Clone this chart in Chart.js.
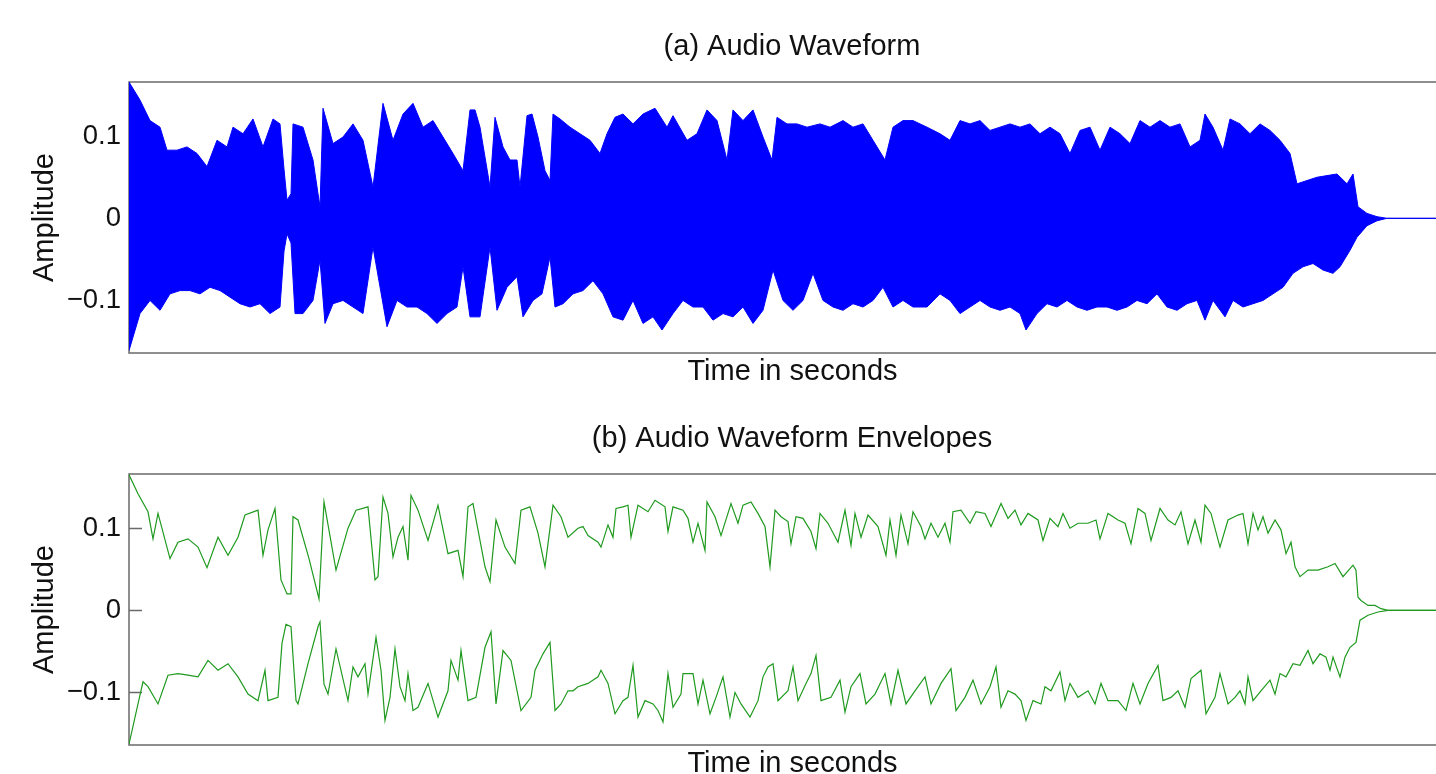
<!DOCTYPE html>
<html>
<head>
<meta charset="utf-8">
<title>Audio Waveform and Envelopes</title>
<script src="https://cdn.jsdelivr.net/npm/chart.js@4.4.1/dist/chart.umd.min.js"></script>
<style>
  html, body { margin: 0; padding: 0; background: #fff; overflow: hidden; width: 1436px; height: 774px; }
  canvas { position: absolute; left: 0; }
  #wave { top: 0; }
  #env  { top: 392px; }
</style>
</head>
<body>
<canvas id="wave" width="1584" height="392"></canvas>
<canvas id="env" width="1584" height="392"></canvas>
<script>
/* ---- data; time in frames along the (unlabelled) time axis ---- */

// (a) waveform: upper edge of the blue trace
const waveHiT = [0,11,21,31,38,48,58,68,78,88,98,104,114,124,134,144,151,155,158,162,164,174,184,189,191,194,204,214,224,234,244,254,264,274,284,294,304,314,324,334,341,346,351,361,366,374,381,388,391,398,403,409,416,421,424,431,441,451,461,471,478,486,494,504,514,526,538,544,558,568,578,588,598,604,614,624,634,643,648,658,668,678,691,701,714,724,734,744,756,764,774,784,798,811,821,831,841,851,861,871,881,891,901,911,921,931,941,951,961,971,981,991,1001,1011,1021,1031,1041,1051,1061,1071,1076,1084,1094,1101,1111,1121,1131,1141,1151,1161,1168,1178,1188,1198,1208,1218,1224,1229,1238,1248,1258,1327];
const waveHiV = [0.166,0.144,0.119,0.111,0.083,0.083,0.087,0.079,0.063,0.095,0.087,0.111,0.103,0.121,0.087,0.121,0.115,0.06,0.022,0.03,0.115,0.111,0.071,0.03,0.014,0.134,0.091,0.099,0.115,0.095,0.038,0.14,0.095,0.127,0.14,0.111,0.119,0.099,0.079,0.058,0.132,0.132,0.111,0.038,0.123,0.087,0.071,0.071,0.038,0.125,0.127,0.099,0.058,0.046,0.127,0.121,0.111,0.103,0.095,0.079,0.103,0.123,0.127,0.115,0.127,0.134,0.111,0.125,0.095,0.103,0.132,0.119,0.071,0.132,0.119,0.132,0.099,0.071,0.123,0.115,0.115,0.111,0.115,0.111,0.119,0.111,0.115,0.095,0.071,0.111,0.119,0.119,0.111,0.103,0.095,0.119,0.115,0.119,0.107,0.111,0.115,0.111,0.115,0.103,0.111,0.103,0.079,0.107,0.111,0.083,0.111,0.103,0.091,0.119,0.111,0.119,0.111,0.115,0.087,0.095,0.127,0.111,0.083,0.121,0.115,0.103,0.115,0.107,0.095,0.079,0.042,0.046,0.05,0.052,0.054,0.042,0.054,0.014,0.006,0.002,0,0];

// (a) waveform: lower edge of the blue trace
const waveLoT = [0,11,21,31,41,51,61,71,81,91,101,111,121,131,141,151,155,158,162,166,174,184,191,196,204,214,224,234,244,258,268,278,288,298,308,318,328,334,341,351,361,368,378,388,394,404,413,421,426,434,444,454,464,474,484,494,504,514,524,533,544,554,564,574,584,594,604,614,624,634,644,654,664,674,684,694,704,714,724,734,744,754,764,774,784,798,811,821,831,841,851,861,871,881,891,897,908,918,928,938,948,958,968,978,988,998,1008,1018,1028,1038,1048,1058,1068,1076,1084,1096,1104,1114,1124,1134,1144,1154,1164,1174,1184,1194,1204,1211,1221,1228,1238,1248,1258,1327];
const waveLoV = [-0.161,-0.116,-0.1,-0.112,-0.092,-0.088,-0.088,-0.092,-0.084,-0.088,-0.096,-0.104,-0.108,-0.104,-0.116,-0.108,-0.04,-0.019,-0.03,-0.116,-0.116,-0.1,-0.051,-0.128,-0.104,-0.1,-0.108,-0.116,-0.035,-0.132,-0.1,-0.108,-0.108,-0.116,-0.128,-0.116,-0.108,-0.059,-0.12,-0.12,-0.035,-0.112,-0.084,-0.071,-0.12,-0.1,-0.092,-0.047,-0.108,-0.104,-0.092,-0.088,-0.076,-0.092,-0.12,-0.124,-0.1,-0.128,-0.12,-0.136,-0.116,-0.1,-0.108,-0.108,-0.124,-0.116,-0.12,-0.108,-0.128,-0.112,-0.063,-0.1,-0.112,-0.1,-0.067,-0.1,-0.108,-0.112,-0.104,-0.108,-0.1,-0.084,-0.108,-0.1,-0.108,-0.108,-0.092,-0.1,-0.116,-0.108,-0.1,-0.108,-0.112,-0.108,-0.116,-0.136,-0.116,-0.104,-0.108,-0.1,-0.108,-0.112,-0.108,-0.108,-0.112,-0.108,-0.1,-0.104,-0.092,-0.108,-0.112,-0.104,-0.1,-0.124,-0.1,-0.12,-0.1,-0.108,-0.104,-0.1,-0.092,-0.084,-0.067,-0.059,-0.055,-0.063,-0.067,-0.059,-0.039,-0.023,-0.009,-0.003,0,0];

// (b) upper envelope (green)
const envHiT = [0,9,19,24,29,41,49,59,69,78,89,99,109,116,129,134,139,146,152,158,162,164,169,180,190,195,207,219,227,239,246,249,254,259,264,269,274,279,282,289,299,309,319,329,334,339,344,349,356,361,367,376,386,392,401,409,416,424,432,439,449,454,459,469,472,479,484,487,494,499,502,509,519,526,536,539,544,554,559,564,569,576,578,586,592,602,609,614,622,629,636,641,646,652,659,662,667,674,682,687,691,699,709,716,722,726,732,739,749,757,761,767,772,779,784,792,796,802,809,816,821,824,832,841,847,856,862,872,879,886,892,899,909,914,921,929,934,941,949,959,967,971,979,989,996,1002,1009,1016,1022,1031,1039,1046,1052,1059,1066,1072,1076,1082,1091,1099,1109,1114,1119,1124,1129,1134,1139,1146,1152,1157,1162,1166,1171,1179,1189,1199,1206,1214,1224,1227,1229,1232,1239,1246,1252,1259,1327];
const envHiV = [0.165,0.142,0.12,0.087,0.118,0.063,0.083,0.087,0.077,0.052,0.089,0.067,0.089,0.116,0.122,0.067,0.098,0.124,0.037,0.02,0.02,0.114,0.11,0.063,0.014,0.132,0.049,0.1,0.122,0.126,0.037,0.041,0.138,0.118,0.065,0.089,0.102,0.061,0.14,0.122,0.085,0.128,0.069,0.073,0.041,0.126,0.13,0.098,0.053,0.035,0.11,0.077,0.057,0.122,0.126,0.094,0.053,0.128,0.114,0.089,0.1,0.102,0.091,0.083,0.077,0.104,0.089,0.124,0.126,0.128,0.089,0.128,0.12,0.134,0.126,0.096,0.126,0.122,0.112,0.083,0.106,0.073,0.132,0.114,0.091,0.13,0.106,0.128,0.132,0.118,0.102,0.053,0.122,0.114,0.108,0.081,0.114,0.112,0.096,0.075,0.118,0.106,0.083,0.122,0.079,0.118,0.089,0.116,0.102,0.067,0.11,0.067,0.116,0.081,0.12,0.102,0.087,0.106,0.089,0.106,0.083,0.12,0.122,0.106,0.12,0.118,0.102,0.13,0.112,0.122,0.104,0.118,0.11,0.085,0.112,0.102,0.118,0.1,0.106,0.106,0.11,0.087,0.118,0.11,0.106,0.081,0.124,0.118,0.085,0.124,0.11,0.104,0.12,0.081,0.11,0.083,0.128,0.118,0.077,0.11,0.116,0.118,0.081,0.118,0.098,0.114,0.094,0.11,0.098,0.069,0.083,0.053,0.041,0.049,0.049,0.053,0.057,0.041,0.055,0.049,0.016,0.012,0.006,0.006,0.002,0,0];

// (b) lower envelope (green)
const envLoT = [0,9,14,19,29,39,49,59,69,79,89,99,109,119,129,136,139,149,153,157,162,167,169,179,189,191,195,199,207,219,224,229,236,239,247,252,256,261,266,271,276,279,284,289,299,309,319,322,329,332,339,347,356,362,367,374,382,392,402,406,414,421,426,432,439,444,449,459,469,472,479,486,494,499,504,509,516,524,529,534,539,544,552,554,564,569,574,581,587,594,601,606,612,621,629,634,639,644,649,659,664,669,677,682,687,692,702,711,716,722,731,737,746,756,762,769,777,786,796,802,812,822,827,836,844,852,861,867,872,879,886,892,897,904,912,916,922,931,936,941,949,959,966,972,979,989,997,1004,1011,1019,1029,1034,1042,1049,1056,1062,1072,1077,1086,1091,1099,1106,1111,1116,1119,1124,1132,1141,1146,1151,1157,1164,1171,1179,1184,1191,1197,1201,1204,1211,1216,1221,1227,1231,1239,1249,1259,1327];
const envLoV = [-0.163,-0.114,-0.087,-0.093,-0.114,-0.079,-0.077,-0.079,-0.081,-0.061,-0.073,-0.065,-0.081,-0.102,-0.11,-0.073,-0.11,-0.106,-0.04,-0.017,-0.02,-0.11,-0.114,-0.065,-0.02,-0.014,-0.09,-0.102,-0.047,-0.11,-0.069,-0.081,-0.065,-0.102,-0.033,-0.073,-0.134,-0.106,-0.047,-0.093,-0.11,-0.077,-0.122,-0.118,-0.089,-0.13,-0.098,-0.061,-0.085,-0.049,-0.11,-0.106,-0.045,-0.026,-0.114,-0.049,-0.061,-0.122,-0.106,-0.073,-0.053,-0.039,-0.122,-0.114,-0.098,-0.098,-0.093,-0.089,-0.081,-0.073,-0.089,-0.126,-0.11,-0.106,-0.067,-0.13,-0.11,-0.114,-0.122,-0.136,-0.077,-0.118,-0.102,-0.077,-0.077,-0.114,-0.085,-0.126,-0.106,-0.081,-0.13,-0.1,-0.114,-0.13,-0.11,-0.081,-0.069,-0.065,-0.11,-0.098,-0.069,-0.11,-0.089,-0.077,-0.055,-0.11,-0.106,-0.085,-0.124,-0.093,-0.077,-0.114,-0.102,-0.077,-0.114,-0.073,-0.114,-0.098,-0.081,-0.114,-0.089,-0.071,-0.122,-0.106,-0.085,-0.114,-0.093,-0.069,-0.118,-0.098,-0.102,-0.11,-0.134,-0.11,-0.114,-0.093,-0.098,-0.075,-0.11,-0.089,-0.106,-0.098,-0.114,-0.089,-0.11,-0.11,-0.122,-0.089,-0.114,-0.089,-0.067,-0.11,-0.106,-0.098,-0.118,-0.083,-0.073,-0.126,-0.106,-0.077,-0.114,-0.106,-0.098,-0.114,-0.081,-0.11,-0.098,-0.085,-0.102,-0.077,-0.081,-0.065,-0.067,-0.049,-0.065,-0.053,-0.057,-0.073,-0.057,-0.081,-0.057,-0.045,-0.039,-0.012,-0.006,-0.002,0,0];

const timeRange = [0, 1327];
const ampTicks  = [-0.1, 0, 0.1];
const ampRange  = [-0.164, 0.166];

/* ---- styling ---- */
const FONT  = '"Liberation Sans", Arial, Helvetica, sans-serif';
const TEXT  = '#111';
const FRAME = '#6a6a6a';
const BLUE  = '#0000ff';
const GREEN = '#1f9a1f';

const pts = (ts, vs) => ts.map((t, i) => ({ x: t, y: vs[i] }));

/** Axes box and inward y tick marks, drawn under the data like MATLAB. */
const axesBox = {
  id: 'axesBox',
  beforeDatasetsDraw(chart) {
    const { ctx, chartArea: a, scales: { y } } = chart;
    ctx.save();
    ctx.strokeStyle = FRAME;
    ctx.lineWidth = 1.5;
    ctx.strokeRect(a.left, a.top, a.right - a.left, a.bottom - a.top);
    ctx.beginPath();
    ampTicks.forEach(v => {
      const py = Math.round(y.getPixelForValue(v)) + 0.5;
      ctx.moveTo(a.left, py);  ctx.lineTo(a.left + 13, py);
      ctx.moveTo(a.right, py); ctx.lineTo(a.right - 13, py);
    });
    ctx.stroke();
    ctx.restore();
  }
};

function fmtAmp(v) {
  if (v === 0) return '0';
  return (v < 0 ? '\u2212' : '') + String(Math.abs(v));
}

function panel(id, title, datasets) {
  return new Chart(document.getElementById(id), {
    type: 'line',
    data: { datasets },
    plugins: [axesBox],
    options: {
      responsive: false,
      animation: false,
      devicePixelRatio: 1,
      layout: { padding: 0 },
      elements: { point: { radius: 0 }, line: { tension: 0 } },
      plugins: {
        legend:  { display: false },
        tooltip: { enabled: false },
        title: {
          display: true, text: title, color: TEXT,
          font: { family: FONT, size: 29, weight: 'normal', lineHeight: 1.2 },
          padding: { top: 29.6, bottom: 17.6 }
        }
      },
      scales: {
        x: {
          type: 'linear', min: timeRange[0], max: timeRange[1],
          grid: { display: false, drawTicks: false },
          border: { display: false },
          ticks: { display: false },
          title: {
            display: true, text: 'Time in seconds', color: TEXT,
            font: { family: FONT, size: 29, lineHeight: 1.2 },
            padding: { top: 0, bottom: 2.6 }
          },
          afterFit: s => { s.height = 39; }
        },
        y: {
          min: ampRange[0], max: ampRange[1],
          grid: { display: false, drawTicks: false },
          border: { display: false },
          afterBuildTicks: s => { s.ticks = ampTicks.map(v => ({ value: v })); },
          ticks: { padding: 8, color: TEXT, font: { family: FONT, size: 27.5 }, callback: fmtAmp },
          title: {
            display: true, text: 'Amplitude', color: TEXT,
            font: { family: FONT, size: 29, lineHeight: 1.2 },
            padding: { top: 27.6, bottom: 0 }
          },
          afterFit: s => { s.width = 129; }
        },
        // empty right-hand band so the figure title centres over the axes box
        yRight: {
          position: 'right', min: ampRange[0], max: ampRange[1],
          grid: { display: false, drawTicks: false },
          border: { display: false },
          ticks: { display: false },
          afterFit: s => { s.width = 128; }
        }
      }
    }
  });
}

panel('wave', '(a) Audio Waveform', [
  { data: pts(waveHiT, waveHiV), borderColor: BLUE, backgroundColor: BLUE, borderWidth: 1, fill: '+1' },
  { data: pts(waveLoT, waveLoV), borderColor: BLUE, backgroundColor: BLUE, borderWidth: 1, fill: false }
]);

panel('env', '(b) Audio Waveform Envelopes', [
  { data: pts(envHiT, envHiV), borderColor: GREEN, borderWidth: 1.2, fill: false },
  { data: pts(envLoT, envLoV), borderColor: GREEN, borderWidth: 1.2, fill: false }
]);
</script>
</body>
</html>
